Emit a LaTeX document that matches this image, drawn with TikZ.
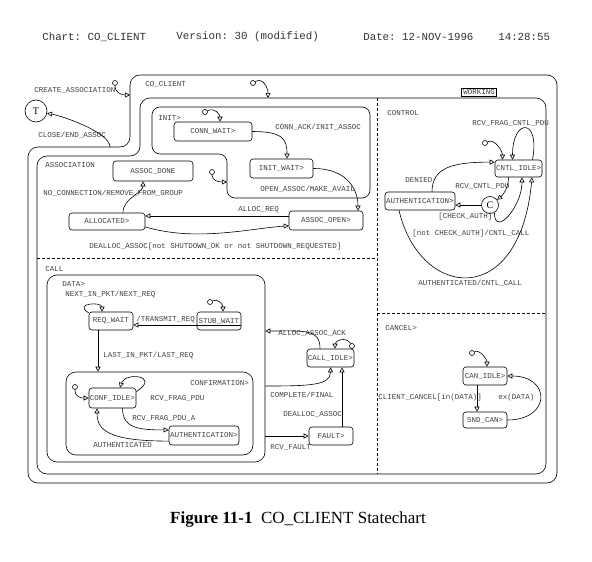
\documentclass[tikz,border=0pt]{standalone}
\usepackage{fontspec}
\setmainfont{Liberation Serif}
\setmonofont{Liberation Mono}
\usetikzlibrary{arrows.meta}

\begin{document}
\begin{tikzpicture}[x=1pt,y=-1pt,line width=0.6pt,
  lbl/.style={font=\ttfamily\fontsize{7.5}{9}\selectfont,text=black!75,inner sep=0pt,anchor=west},
  st/.style={draw,rounded corners=3pt,font=\ttfamily\fontsize{7.5}{9}\selectfont,text=black!75,inner xsep=1pt,inner ysep=0pt},
  super/.style={draw,rounded corners=10pt,inner sep=0pt},
  dflt/.style={draw,circle,inner sep=0pt,minimum size=5pt},
  tr/.style={-{Triangle[open,length=5pt,width=5pt]}},
  hd/.style={font=\ttfamily\fontsize{10.8}{12}\selectfont,text=black!80,inner sep=0pt,anchor=west}]

\useasboundingbox (0,0) rectangle (592,562);

% header
\node[hd] (hChart) at (42,37) {Chart: CO\_CLIENT};
\node[hd] (hVersion) at (176,37) {Version: 30 (modified)};
\node[hd] (hDate) at (363,37) {Date: 12-NOV-1996};
\node[hd] (hTime) at (498,37) {14:28:55};

% outline of CO_CLIENT, WORKING and INIT
\draw[rounded corners=10pt] (28,483) -- (28,147) -- (130,147) -- (130,75) -- (557,75) -- (557,483) -- cycle;
\draw[rounded corners=10pt] (37,474) -- (37,156) -- (140,156) -- (140,98) -- (546,98) -- (546,474) -- cycle;
\draw[rounded corners=8pt] (152,107) -- (370,107) -- (370,198) -- (227,198) -- (227,154) -- (152,154) -- cycle;
\draw[dashed,dash pattern=on 3pt off 2pt] (377,98) -- (377,474)
      (37,258) -- (377,258)
      (377,313) -- (546,313);
\node[draw,inner sep=1.5pt,font=\ttfamily\fontsize{7.5}{9}\selectfont,text=black!75] (wkLabel) at (479,92.5) {WORKING};

\coordinate (ccIn) at (130,95);
\coordinate (ccOut) at (110,147);
\coordinate (wkIn) at (268,98);
\coordinate (initIn) at (227,182);

% states
\node[draw,circle,minimum size=22pt,inner sep=0pt] (T) at (36,111) {T};
\node[st,minimum width=78pt,minimum height=19pt] (connwait) at (213,131.5) {CONN\_WAIT>};
\node[st,minimum width=63pt,minimum height=19pt] (initwait) at (281.5,168.5) {INIT\_WAIT>};
\node[st,minimum width=80pt,minimum height=20pt] (assocdone) at (153,171) {ASSOC\_DONE};
\node[st,minimum width=76pt,minimum height=17pt] (allocated) at (107,221.5) {ALLOCATED>};
\node[st,minimum width=74pt,minimum height=19pt] (assocopen) at (326,220.5) {ASSOC\_OPEN>};
\node[super,minimum width=218pt,minimum height=187pt] (data) at (156,368.5) {};
\node[st,minimum width=44pt,minimum height=18pt] (reqwait) at (111,321) {REQ\_WAIT};
\node[st,minimum width=44pt,minimum height=18pt] (stubwait) at (219,321) {STUB\_WAIT};
\node[super,minimum width=187pt,minimum height=83pt] (conf) at (159.5,413.5) {};
\node[st,minimum width=45pt,minimum height=20pt] (confidle) at (112.5,398) {CONF\_IDLE>};
\node[st,minimum width=70pt,minimum height=19pt] (authconf) at (204,435.5) {AUTHENTICATION>};
\node[st,minimum width=45pt,minimum height=18pt] (callidle) at (330.5,358) {CALL\_IDLE>};
\node[st,minimum width=44pt,minimum height=18pt] (fault) at (331,436) {FAULT>};
\node[st,minimum width=43pt,minimum height=17pt] (cntlidle) at (518.5,168.5) {CNTL\_IDLE>};
\node[st,minimum width=70pt,minimum height=18pt] (authctrl) at (420,201) {AUTHENTICATION>};
\node[draw,circle,minimum size=17pt,inner sep=0pt] (C) at (490,205) {C};
\node[st,minimum width=44pt,minimum height=18pt] (canidle) at (485,376) {CAN\_IDLE>};
\node[st,minimum width=44pt,minimum height=16pt] (sndcan) at (485,420) {SND\_CAN>};

% default connectors
\node[dflt] (dCo) at (115,83) {};
\node[dflt] (dWork) at (253,83) {};
\node[dflt] (dInit) at (205,112) {};
\node[dflt] (dAssoc) at (212,172) {};
\node[dflt] (dStub) at (210,302) {};
\node[dflt] (dConf) at (75,387) {};
\node[dflt] (dCall) at (352,346) {};
\node[dflt] (dCntl) at (485,143) {};
\node[dflt] (dCan) at (472,353) {};

% labels
\node[lbl] (lCoClient) at (145,84) {CO\_CLIENT};
\node[lbl] (lCreate) at (34,90) {CREATE\_ASSOCIATION};
\node[lbl] (lClose) at (38,135) {CLOSE/END\_ASSOC};
\node[lbl] (lInit) at (158,118) {INIT>};
\node[lbl] (lConnAck) at (275,127) {CONN\_ACK/INIT\_ASSOC};
\node[lbl] (lOpen) at (260,189) {OPEN\_ASSOC/MAKE\_AVAIL};
\node[lbl] (lAssoc) at (45,165) {ASSOCIATION};
\node[lbl] (lNoConn) at (43,193) {NO\_CONNECTION/REMOVE\_FROM\_GROUP};
\node[lbl] (lAllocReq) at (238,210) {ALLOC\_REQ};
\node[lbl] (lDealloc) at (89,247) {DEALLOC\_ASSOC[not SHUTDOWN\_OK or not SHUTDOWN\_REQUESTED]};
\node[lbl] (lCall) at (45,269) {CALL};
\node[lbl] (lData) at (62,284) {DATA>};
\node[lbl] (lNext) at (65,294) {NEXT\_IN\_PKT/NEXT\_REQ};
\node[lbl] (lTransmit) at (136,319) {/TRANSMIT\_REQ};
\node[lbl] (lLast) at (103,355) {LAST\_IN\_PKT/LAST\_REQ};
\node[lbl] (lConf) at (190,383) {CONFIRMATION>};
\node[lbl] (lFrag) at (150,398) {RCV\_FRAG\_PDU};
\node[lbl] (lFragA) at (132,418) {RCV\_FRAG\_PDU\_A};
\node[lbl] (lAuthd) at (93,445) {AUTHENTICATED};
\node[lbl] (lAck) at (278,333) {ALLOC\_ASSOC\_ACK};
\node[lbl] (lComplete) at (270,395) {COMPLETE/FINAL};
\node[lbl] (lDealloc2) at (283,414) {DEALLOC\_ASSOC};
\node[lbl] (lFault) at (270,447) {RCV\_FAULT};
\node[lbl] (lControl) at (387,113) {CONTROL};
\node[lbl] (lFragCntl) at (472,123) {RCV\_FRAG\_CNTL\_PDU};
\node[lbl] (lDenied) at (405,180) {DENIED};
\node[lbl] (lCntlPdu) at (455,186) {RCV\_CNTL\_PDU};
\node[lbl] (lCheck) at (438,217) {[CHECK\_AUTH]};
\node[lbl] (lNotCheck) at (412,234) {[not CHECK\_AUTH]/CNTL\_CALL};
\node[lbl] (lAuthCall) at (418,283) {AUTHENTICATED/CNTL\_CALL};
\node[lbl] (lCancel) at (385,328) {CANCEL>};
\node[lbl] (lClient) at (378,398) {CLIENT\_CANCEL[in(DATA)]};
\node[lbl] (lEx) at (498,398) {ex(DATA)};

% CO_CLIENT and WORKING
\draw[tr] (dCo) .. controls +(0,10) and +(-8,0) .. (ccIn);
\draw[tr] (ccOut) .. controls +(0,-14) and +(30,6) .. (T);
\draw[tr] (dWork) .. controls +(10,-6) and +(0,-10) .. (wkIn);

% ASSOCIATION
\draw[tr] (dInit) .. controls +(10,-5) and +(0,-7) .. ([xshift=7pt]connwait.north);
\draw[tr] (connwait.east) .. controls +(30,0) and +(0,-20) .. ([xshift=5.5pt]initwait.north);
\draw[tr] (initwait.east) .. controls +(35,0) and +(0,-20) .. ([xshift=32pt]assocopen.north);
\draw[tr] (dAssoc) .. controls +(0,9) and +(-8,0) .. (initIn);
\draw[tr] ([xshift=16pt]allocated.north) .. controls +(0,-15) and +(0,12) .. ([xshift=-10pt]assocdone.south);
\draw[tr] (assocopen.173) -- (allocated.east |- assocopen.173);
\draw[tr] (allocated.-8) .. controls +(50,15) and +(-40,3) .. (assocopen.188);

% CALL
\draw[tr] (reqwait.160) .. controls +(-16,-10) and +(0,-10) .. ([xshift=-9pt]reqwait.north);
\draw[tr] (dStub) .. controls +(8,-4) and +(0,-7) .. ([xshift=4pt]stubwait.north);
\draw[tr] (stubwait.-10) -- (reqwait.east |- stubwait.-10);
\draw[tr] ([xshift=-13pt]reqwait.south) -- ([xshift=-13pt]reqwait.south |- conf.north);
\draw[tr] (dConf) .. controls +(0,10) and +(-8,0) .. (confidle.west);
\draw[tr] (confidle.15) .. controls +(25,-16) and +(5,-16) .. ([xshift=7.5pt]confidle.north);
\draw[tr] ([xshift=10pt]confidle.south) .. controls +(0,20) and +(-30,0) .. (authconf.171);
\draw[tr] (authconf.-171) .. controls +(-60,0) and +(0,22) .. ([xshift=-15.5pt]confidle.south);
\draw[tr] (dCall) .. controls +(-6,-10) and +(0,-8) .. ([xshift=4.5pt]callidle.north);
\draw[tr] ([xshift=-10.5pt]callidle.north) .. controls +(0,-20) and +(40,0) .. (data.east |- 0,331);
\draw[tr] (data.east |- 0,386) .. controls +(45,0) and +(0,18) .. (callidle.south);
\draw[tr] ([xshift=11pt]fault.north) -- ([xshift=11pt]fault.north |- callidle.south);
\draw[tr] (data.east |- fault.west) -- (fault.west);

% CONTROL
\draw[tr] (dCntl) .. controls +(10,-5) and +(0,-8) .. ([xshift=-16pt]cntlidle.north);
\draw[tr] ([xshift=14pt]cntlidle.north) .. controls +(8,-42) and +(0,-42) .. ([xshift=-6pt]cntlidle.north);
\draw[tr] ([xshift=-10pt]cntlidle.south) .. controls +(0,15) and +(8,-6) .. (C);
\draw[tr] (C.west) -- (authctrl.east |- C.west);
\draw[tr] (C.-60) .. controls +(0,25) and +(0,30) .. ([xshift=3.5pt]cntlidle.south);
\draw[tr] ([xshift=12pt]authctrl.north) .. controls +(0,-25) and +(-40,0) .. (cntlidle.165);
\draw[tr] ([xshift=-21pt]authctrl.south) .. controls (420,300) and (520,310) .. ([xshift=13.5pt]cntlidle.south);

% CANCEL
\draw[tr] (dCan) .. controls +(8,-4) and +(0,-7) .. ([xshift=2pt]canidle.north);
\draw[tr] ([xshift=-8pt]canidle.south) -- ([xshift=-8pt]canidle.south |- sndcan.north);
\draw[tr] (sndcan.east) .. controls +(44,0) and +(44,0) .. (canidle.east);

% caption
\node[font=\fontsize{17}{19}\selectfont] (caption) at (298,519) {\textbf{Figure 11-1}\enspace CO\_CLIENT Statechart};
\end{tikzpicture}
\end{document}
